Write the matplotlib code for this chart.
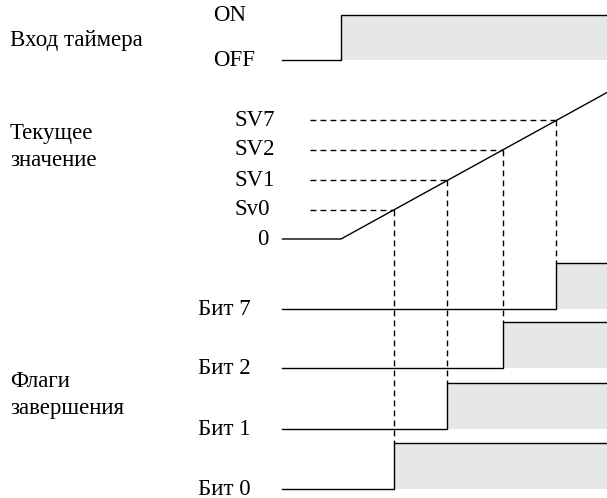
import numpy as np
import matplotlib.pyplot as plt

plt.rcParams['font.family'] = ['Liberation Serif', 'DejaVu Serif']

# counter set values (in counts) for the flags, and their labels
sv_labels = ['Sv0', 'SV1', 'SV2', 'SV7']
sv_values = [1.0, 2.0, 3.05, 4.05]
bit_labels = ['Бит 0', 'Бит 1', 'Бит 2', 'Бит 7']
group_labels = ['Вход таймера', 'Текущее\nзначение', 'Флаги\nзавершения']
timer_levels = ['ON', 'OFF']
t_on = 0.0        # timer input switches on
t_start = -1.1    # left end of the traces
t_end = 5.0       # right end of the traces

# layout in pixels
x0, px_t = 341, 53.2       # x of t=0, pixels per time unit
zero_y, px_v = 239, 29.3   # y of count 0, pixels per count
timer_y = (15, 60)
bit_low = [489, 429, 368, 309]
bit_h = 46
fill_c = '#e6e7e8'
lw = 1.0
dash = (0, (4.2, 3.0))

def tx(t):
    return x0 + np.asarray(t) * px_t

fig = plt.figure(figsize=(6.07, 4.98), dpi=100)
ax = fig.add_axes([0, 0, 1, 1])
ax.set_xlim(0, 607)
ax.set_ylim(498, 0)
ax.axis('off')

# timer input
hi, lo = timer_y
ax.fill_between([tx(t_on), tx(t_end) + 5], hi, lo, color=fill_c, lw=0)
ax.plot(tx([t_start, t_on, t_on, t_end + 0.1]), [lo, lo, hi, hi], color='k', lw=lw)
ax.text(213, hi, timer_levels[0], fontsize=16.5, va='center', ha='left')
ax.text(213, lo, timer_levels[1], fontsize=16.5, va='center', ha='left')

# current value ramp
t = np.array([t_start, t_on, t_end + 0.1])
val = np.clip(t - t_on, 0, None)
ax.plot(tx(t), zero_y - val * px_v, color='k', lw=lw)
ax.text(269, zero_y, '0', fontsize=16.5, va='center', ha='right')

# set values and completion flags
for lab, sv, blab, low in zip(sv_labels, sv_values, bit_labels, bit_low):
    y = zero_y - sv * px_v
    xr = tx(t_on + sv)
    ax.plot([310, xr], [y, y], color='k', lw=1.0, ls=dash)
    ax.plot([xr, xr], [y, low - bit_h], color='k', lw=1.0, ls=dash)
    ax.text(235, y, lab, fontsize=16.5, va='center', ha='left')
    ax.fill_between([xr, tx(t_end) + 5], low - bit_h, low, color=fill_c, lw=0)
    ax.plot(tx([t_start, t_on + sv, t_on + sv, t_end + 0.1]),
            [low, low, low - bit_h, low - bit_h], color='k', lw=lw)
    ax.text(198, low, blab, fontsize=16.5, va='center', ha='left')

ax.text(10, 40, group_labels[0], fontsize=16.5, va='center', ha='left')
ax.text(10, 147, group_labels[1], fontsize=16.5, va='center', ha='left', linespacing=1.35)
ax.text(10, 395, group_labels[2], fontsize=16.5, va='center', ha='left', linespacing=1.35)

fig.savefig('out.png', dpi=100)
